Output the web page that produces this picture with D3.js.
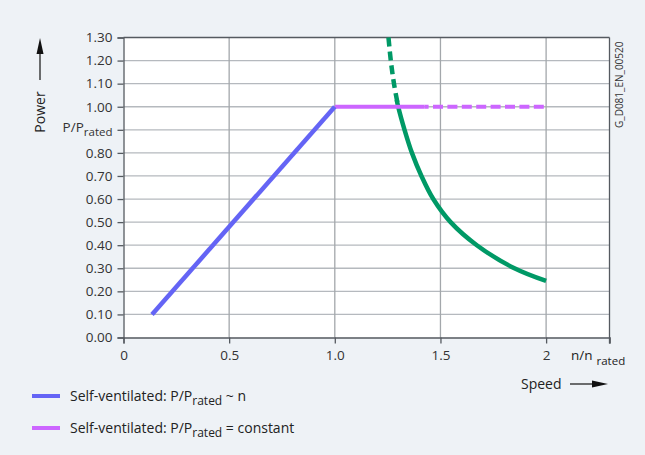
<!DOCTYPE html>
<html><head><meta charset="utf-8">
<script src="https://cdn.jsdelivr.net/npm/d3@7"></script>
<style>
html,body{margin:0;padding:0;background:#eef2f6;}
svg{display:block;font-family:"Open Sans",sans-serif;}
</style></head>
<body>
<svg id="c" width="645" height="455"></svg>
<script>
// ---- data ----
const xTicks = [0, 0.5, 1.0, 1.5, 2];
const xTickLabels = ["0", "0.5", "1.0", "1.5", "2"];
const yTicks = [0, 0.1, 0.2, 0.3, 0.4, 0.5, 0.6, 0.7, 0.8, 0.9, 1.0, 1.1, 1.2, 1.3];
const yTickLabels = ["0.00","0.10","0.20","0.30","0.40","0.50","0.60","0.70","0.80","P/P","1.00","1.10","1.20","1.30"];
// Self-ventilated P/Prated ~ n
const bluePts = [[0.135, 0.10], [1.0, 1.0]];
// Self-ventilated P/Prated = constant (solid, then dashed)
const purpleSolid = [[1.0, 1.0], [1.425, 1.0]];
const purpleDashed = [[1.425, 1.0], [2.0, 1.0]];
// limit curve (dashed part above 1.0, solid below)
const greenDashed = [[1.254, 1.30], [1.265, 1.20], [1.280, 1.10], [1.300, 1.0]];
const greenSolid = [[1.293, 1.03], [1.300, 1.0], [1.330, 0.90], [1.365, 0.80], [1.410, 0.70], [1.466, 0.60], [1.548, 0.50], [1.672, 0.40], [1.850, 0.30], [2.0, 0.245]];
const legendItems = [
  {color: "#6464f5", pre: "Self-ventilated:  P/P", sub: "rated", post: " ~ n"},
  {color: "#cc66ff", pre: "Self-ventilated:  P/P", sub: "rated", post: " = constant"}
];

const svg = d3.select("#c");
const x = d3.scaleLinear().domain([0, 2.3]).range([123.5, 609.5]);
const y = d3.scaleLinear().domain([0, 1.3]).range([337.5, 37.5]);

// plot background
svg.append("rect").attr("x", x(0)).attr("y", y(1.3)).attr("width", x(2.3) - x(0)).attr("height", y(0) - y(1.3)).attr("fill", "#fff");

// grid
svg.append("g").selectAll("line").data(yTicks.filter(d => d > 0 && d < 1.3)).join("line")
  .attr("x1", x(0)).attr("x2", x(2.3)).attr("y1", d => y(d)).attr("y2", d => y(d))
  .attr("stroke", "#b5b9be").attr("stroke-width", 1.3);
svg.append("g").selectAll("line").data(xTicks.filter(d => d > 0)).join("line")
  .attr("x1", d => x(d)).attr("x2", d => x(d)).attr("y1", y(0)).attr("y2", y(1.3))
  .attr("stroke", "#a3a7ab").attr("stroke-width", 1.3);

// top & right border
svg.append("line").attr("x1", x(0)).attr("x2", x(2.3)).attr("y1", y(1.3)).attr("y2", y(1.3)).attr("stroke", "#555a60").attr("stroke-width", 1.3);
svg.append("line").attr("x1", x(2.3)).attr("x2", x(2.3)).attr("y1", y(1.3)).attr("y2", y(0) + 6).attr("stroke", "#555a60").attr("stroke-width", 1.3);

// axes
const xAxis = d3.axisBottom(x).tickValues(xTicks.concat([2.3])).tickSize(6).tickPadding(4)
  .tickFormat((d, i) => i < xTickLabels.length ? xTickLabels[i] : "");
const gx = svg.append("g").attr("transform", `translate(0,${y(0)})`).call(xAxis);
const yAxis = d3.axisLeft(y).tickValues(yTicks).tickSize(6).tickPadding(5)
  .tickFormat((d, i) => yTickLabels[i]);
const gy = svg.append("g").attr("transform", `translate(${x(0)},0)`).call(yAxis);
[gx, gy].forEach(g => {
  g.select(".domain").attr("stroke", "#555a60").attr("stroke-width", 1.3);
  g.selectAll(".tick line").attr("stroke", "#555a60").attr("stroke-width", 1.3);
  g.selectAll("text").attr("fill", "#333").attr("font-size", 13.5).attr("font-family", "Open Sans");
});
gx.selectAll("text").attr("dy", "0.9em");
// subscript for P/Prated label
gy.selectAll(".tick text").filter((d, i) => yTickLabels[i] === "P/P")
  .text(null).call(t => {
    t.append("tspan").text("P/P");
    t.append("tspan").text("rated").attr("font-size", 11.5).attr("dy", 4);
  }).attr("dy", "0.1em");

// lines
const line = d3.line().x(d => x(d[0])).y(d => y(d[1]));
const lineC = d3.line().x(d => x(d[0])).y(d => y(d[1])).curve(d3.curveCatmullRom);
svg.append("path").datum(greenDashed).attr("d", lineC).attr("fill", "none").attr("stroke", "#009966").attr("stroke-width", 4.5).attr("stroke-dasharray", "9,5");
svg.append("path").datum(greenSolid).attr("d", lineC).attr("fill", "none").attr("stroke", "#009966").attr("stroke-width", 4.5);
svg.append("path").datum(purpleSolid).attr("d", line).attr("fill", "none").attr("stroke", "#cc66ff").attr("stroke-width", 4);
svg.append("path").datum(purpleDashed).attr("d", line).attr("fill", "none").attr("stroke", "#cc66ff").attr("stroke-width", 4).attr("stroke-dasharray", "10,4.4").attr("stroke-dashoffset", 6);
svg.append("path").datum(bluePts).attr("d", line).attr("fill", "none").attr("stroke", "#6464f5").attr("stroke-width", 4.5);

// y title
svg.append("text").attr("transform", "translate(45,112) rotate(-90)").attr("text-anchor", "middle")
  .attr("font-size", 14).attr("fill", "#222").text("Power");
svg.append("line").attr("x1", 40).attr("x2", 40).attr("y1", 80).attr("y2", 50).attr("stroke", "#222").attr("stroke-width", 1.3);
svg.append("path").attr("d", "M40,38 L36.5,54 L43.5,54 Z").attr("fill", "#111");

// x title
const nl = svg.append("text").attr("x", 571).attr("y", 360).attr("font-size", 13.5).attr("fill", "#222");
nl.append("tspan").text("n/n");
nl.append("tspan").text("rated").attr("font-size", 11.5).attr("dx", 4).attr("dy", 5);
svg.append("text").attr("x", 521).attr("y", 389).attr("font-size", 14).attr("fill", "#222").text("Speed");
svg.append("line").attr("x1", 570).attr("x2", 595).attr("y1", 384).attr("y2", 384).attr("stroke", "#222").attr("stroke-width", 1.3);
svg.append("path").attr("d", "M608,384 L592,380.5 L592,387.5 Z").attr("fill", "#111");

// id label
svg.append("text").attr("transform", "translate(623,128) rotate(-90)").attr("font-size", 10).attr("fill", "#333").text("G_D081_EN_00520");

// legend
const lg = svg.append("g").selectAll("g").data(legendItems).join("g")
  .attr("transform", (d, i) => `translate(0,${396 + i * 32})`);
lg.append("line").attr("x1", 32).attr("x2", 60).attr("y1", 0).attr("y2", 0).attr("stroke", d => d.color).attr("stroke-width", 4);
const lt = lg.append("text").attr("x", 70).attr("y", 5).attr("font-size", 14).attr("fill", "#222");
lt.append("tspan").text(d => d.pre);
lt.append("tspan").text(d => d.sub).attr("font-size", 12).attr("dy", 4);
lt.append("tspan").text(d => d.post).attr("dy", -4);
</script>
</body></html>
